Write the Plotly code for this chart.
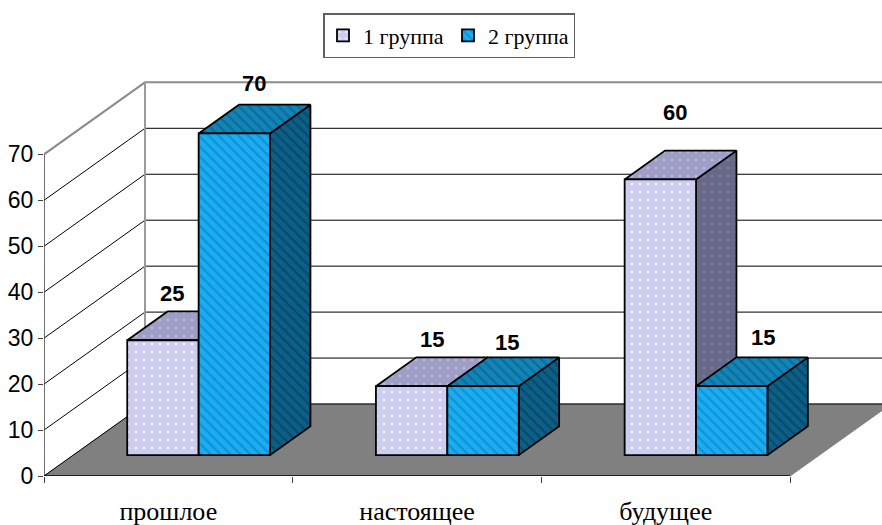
import plotly.graph_objects as go

CATEGORIES = ["прошлое", "настоящее", "будущее"]
GROUP_1 = [25, 15, 60]
GROUP_2 = [70, 15, 15]
SERIES_NAMES = ["1 группа", "2 группа"]
Y_TICKS = [0, 10, 20, 30, 40, 50, 60, 70]
LABEL_SHIFTS_1 = [(9, 18), (20, 18), (15, 38)]
LABEL_SHIFTS_2 = [(20, 21), (24, 15), (31, 20)]

# scale: pixels per axis unit
PX_X, PX_Y = 248.7, 4.595
L, T, B = 44, 60, 49
W, H = 882, 525
DX = 101 / PX_X      # full depth of the chart box, in x units
DY = 72 / PX_Y       # full depth of the chart box, in y units
BAR_W = 71.4 / PX_X
BAR_NUDGE = 1.0 / PX_X
START = 0.29         # where the bars begin in the depth
THICK = 0.40         # how much of the depth the bars take
YMAX = 70

STYLES = [
    dict(front="#CDCDEF", front_fg="#EEEEFC", top="#9E9EC6", top_fg="#B8B8DC", side="#686888", side_fg="#7A7A9C",
         shape=".", size=8, sol=0.12),
    dict(front="#1AADF2", front_fg="#1190D2", top="#1284B6", top_fg="#0B6C99", side="#0C5F86", side_fg="#07496A",
         shape="\\", size=7, sol=0.3),
]

fig = go.Figure()


def poly(xs, ys, fill=None, line="black", lw=1, z=0, pattern=None, close=True, clip=True):
    if close:
        xs, ys = xs + xs[:1], ys + ys[:1]
    kw = dict(fill="toself", fillcolor=fill) if fill else {}
    if pattern:
        kw["fillpattern"] = pattern
    fig.add_trace(go.Scatter(x=xs, y=ys, mode="lines", line=dict(color=line, width=lw), showlegend=False,
                             hoverinfo="skip", zorder=z, cliponaxis=clip, **kw))


n = len(CATEGORIES)
# floor
poly([0, n, n + DX, DX], [0, 0, DY, DY], fill="#808080", line="#808080", z=0)
# wall grid
for v in Y_TICKS:
    top = v == YMAX
    poly([0, DX, n + DX], [v, v + DY, v + DY], line="#8C8C8C" if top else "black", lw=2 if top else 1, z=1, close=False)
poly([DX, DX], [DY, YMAX + DY], line="#9A9A9A", lw=2, z=1, close=False)
# axis lines
poly([0, 0], [0, YMAX], line="#404040", lw=1.5, z=2, close=False, clip=False)
poly([0, n], [0, 0], line="black", lw=1.5, z=2, close=False, clip=False)

annotations = []
z = 10
base = START * DY
gap = (1 - 2 * BAR_W) / 2 + BAR_NUDGE
for c in range(n):
    for s, vals in enumerate((GROUP_1, GROUP_2)):
        st = STYLES[s]
        v = vals[c]
        x0 = c + gap + s * BAR_W + START * DX
        x1 = x0 + BAR_W
        y0 = base
        y1 = base + v
        ox, oy = THICK * DX, THICK * DY
        def pat(bg, fg):
            return dict(shape=st["shape"], bgcolor=bg, fgcolor=fg, size=st["size"], solidity=st["sol"], fillmode="replace")
        poly([x1, x1 + ox, x1 + ox, x1], [y0, y0 + oy, y1 + oy, y1], fill=st["side"], lw=1.8, z=z,
             pattern=pat(st["side"], st["side_fg"]))
        poly([x0, x1, x1 + ox, x0 + ox], [y1, y1, y1 + oy, y1 + oy], fill=st["top"], lw=1.8, z=z + 1,
             pattern=pat(st["top"], st["top_fg"]))
        fig.add_trace(go.Bar(x=[x0 + BAR_W / 2], y=[v], base=[y0], width=[BAR_W], name=SERIES_NAMES[s],
                             showlegend=c == 0, legendgroup=SERIES_NAMES[s], zorder=z + 2, hoverinfo="skip",
                             marker=dict(color=st["front"], line=dict(color="black", width=1.8),
                                         pattern=pat(st["front"], st["front_fg"]))))
        z += 3
        sx, sy = (LABEL_SHIFTS_1 if s == 0 else LABEL_SHIFTS_2)[c]
        annotations.append(dict(x=x0 + BAR_W / 2, y=y1, text=f"<b>{v}</b>", showarrow=False, xshift=sx, yshift=sy + 29,
                                font=dict(family="Liberation Sans", size=22, color="black"),
                                xanchor="center", yanchor="middle"))

fig.update_layout(
    width=W, height=H, margin=dict(l=L, r=0, t=T, b=B, pad=0, autoexpand=False), autosize=False,
    paper_bgcolor="white", plot_bgcolor="white", barmode="overlay", annotations=annotations,
    font=dict(family="Liberation Sans", color="black"),
    legend=dict(orientation="h", x=449 / W, xref="container", xanchor="center", y=1 - 13 / H, yref="container",
                yanchor="top", bordercolor="#606060", borderwidth=1.5, bgcolor="white", entrywidth=80,
                entrywidthmode="pixels", font=dict(family="Liberation Serif", size=22, color="black"), itemwidth=30),
    xaxis=dict(range=[0, (W - L) / PX_X], tickvals=[i + 0.5 for i in range(n)], ticktext=CATEGORIES,
               ticks="", showgrid=False, zeroline=False, showline=False, ticklabelstandoff=17, automargin=False,
               tickfont=dict(family="Liberation Serif", size=26, color="black"),
               minor=dict(tickvals=list(range(n + 1)), ticks="outside", ticklen=6, tickcolor="#404040", showgrid=False)),
    yaxis=dict(range=[0, (H - T - B) / PX_Y], tickvals=Y_TICKS, ticks="outside", ticklen=5, tickcolor="#404040",
               showgrid=False, zeroline=False, showline=False, automargin=False,
               tickfont=dict(family="Liberation Sans", size=23, color="black")),
    showlegend=True,
)
fig.write_html("out.html", config=dict(displayModeBar=False),
               post_script="document.body.style.margin='0';document.body.style.overflow='hidden';")
